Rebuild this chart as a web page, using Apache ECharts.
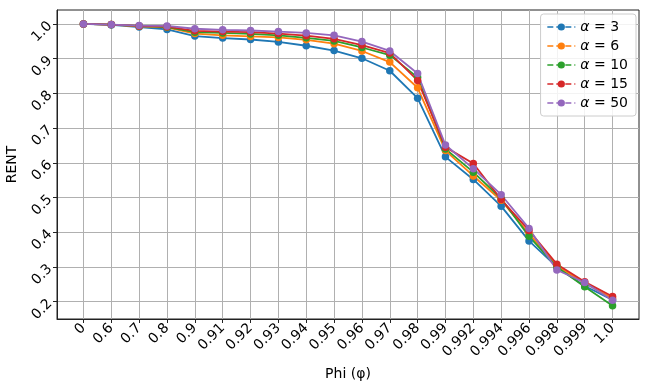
<!DOCTYPE html>
<html>
<head>
<meta charset="utf-8">
<script src="https://cdn.jsdelivr.net/npm/echarts@6/dist/echarts.min.js"></script>
<style>
  html, body { margin: 0; padding: 0; background: #fff; }
  #chart { width: 648px; height: 389px; }
</style>
</head>
<body>
<div id="chart"></div>
<script>
// x categories (phi values), plotted at index positions
const phiLabels = ['0', '0.6', '0.7', '0.8', '0.9', '0.91', '0.92', '0.93', '0.94', '0.95',
  '0.96', '0.97', '0.98', '0.99', '0.992', '0.994', '0.996', '0.998', '0.999', '1.0']
const yTicks = [0.2, 0.3, 0.4, 0.5, 0.6, 0.7, 0.8, 0.9, 1.0]

const alpha3 = [1.0, 0.997, 0.991, 0.984, 0.965, 0.959, 0.955, 0.948, 0.937, 0.923,
  0.901, 0.865, 0.786, 0.617, 0.552, 0.475, 0.375, 0.300, 0.245, 0.205]
const alpha6 = [1.0, 0.998, 0.993, 0.990, 0.972, 0.967, 0.964, 0.961, 0.954, 0.943,
  0.922, 0.890, 0.816, 0.635, 0.562, 0.492, 0.395, 0.303, 0.253, 0.210]
const alpha10 = [1.0, 0.998, 0.994, 0.991, 0.976, 0.974, 0.971, 0.967, 0.960, 0.951,
  0.932, 0.910, 0.846, 0.640, 0.573, 0.497, 0.388, 0.300, 0.243, 0.188]
const alpha15 = [1.0, 0.998, 0.994, 0.992, 0.980, 0.978, 0.976, 0.972, 0.966, 0.957,
  0.939, 0.916, 0.837, 0.645, 0.598, 0.494, 0.405, 0.308, 0.257, 0.215]
const alpha50 = [1.0, 0.998, 0.995, 0.994, 0.986, 0.983, 0.981, 0.978, 0.974, 0.967,
  0.949, 0.922, 0.857, 0.651, 0.583, 0.508, 0.411, 0.291, 0.255, 0.204]

const seriesList = [
  { name: '3', values: alpha3, color: '#1f77b4' },
  { name: '6', values: alpha6, color: '#ff7f0e' },
  { name: '10', values: alpha10, color: '#2ca02c' },
  { name: '15', values: alpha15, color: '#d62728' },
  { name: '50', values: alpha50, color: '#9467bd' }
]

const myChart = echarts.init(document.getElementById('chart'))
myChart.setOption({
  animation: false,
  textStyle: { fontFamily: 'DejaVu Sans' },
  grid: {
    left: 57, right: 9, top: 10, bottom: 70,
    outerBoundsMode: 'none',
    containLabel: false,
    show: true, borderColor: '#222', borderWidth: 1
  },
  legend: {
    orient: 'vertical',
    right: 12,
    top: 14,
    itemWidth: 28,
    itemHeight: 9,
    itemGap: 5,
    padding: [6, 8, 6, 6],
    backgroundColor: 'rgba(255,255,255,0.85)',
    borderColor: '#ccc',
    borderWidth: 1,
    borderRadius: 3,
    lineStyle: { type: 'dashed', width: 1.5 },
    textStyle: {
      fontSize: 14, color: '#000',
      rich: { a: { fontStyle: 'italic', fontSize: 14, fontFamily: 'DejaVu Sans' } }
    },
    formatter: name => '{a|α} = ' + name
  },
  xAxis: {
    type: 'value',
    min: -0.95,
    max: 19.95,
    name: 'Phi (φ)',
    nameLocation: 'middle',
    nameGap: 48,
    nameTextStyle: { fontSize: 14, color: '#000' },
    axisLine: { show: true, onZero: false, lineStyle: { color: '#222', width: 1 } },
    axisTick: {
      show: true, length: 4, lineStyle: { color: '#222' },
      customValues: phiLabels.map((p, i) => i)
    },
    axisLabel: {
      rotate: 45, fontSize: 14, color: '#000', margin: 7,
      customValues: phiLabels.map((p, i) => i),
      formatter: v => phiLabels[Math.round(v)]
    },
    splitLine: { show: true, lineStyle: { color: '#b0b0b0', width: 1 } }
  },
  yAxis: {
    type: 'value',
    min: 0.15,
    max: 1.04,
    name: 'RENT',
    nameLocation: 'middle',
    nameGap: 35,
    nameRotate: 90,
    nameTextStyle: { fontSize: 14, color: '#000' },
    axisLine: { show: true, onZero: false, lineStyle: { color: '#222', width: 1 } },
    axisTick: { show: true, length: 4, lineStyle: { color: '#222' }, customValues: yTicks },
    axisLabel: {
      rotate: 45, fontSize: 14, color: '#000', margin: 7,
      customValues: yTicks,
      formatter: v => v.toFixed(1)
    },
    splitLine: { show: true, lineStyle: { color: '#b0b0b0', width: 1 } }
  },
  series: seriesList.map(s => ({
    name: s.name,
    type: 'line',
    data: s.values.map((v, i) => [i, v]),
    color: s.color,
    symbol: 'circle',
    symbolSize: 7.5,
    showAllSymbol: true,
    lineStyle: { width: 1.8, color: s.color },
    itemStyle: { color: s.color }
  }))
})
</script>
</body>
</html>
